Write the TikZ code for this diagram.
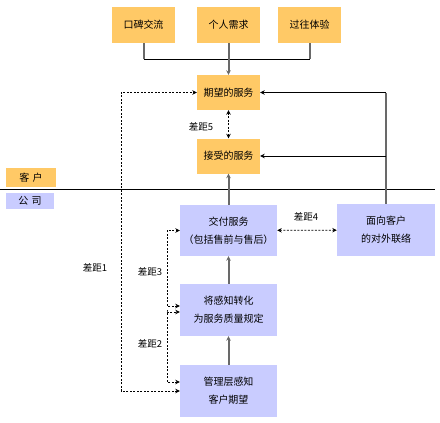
\documentclass[tikz,border=0pt]{standalone}
\usepackage{fontspec}
\setmainfont{Noto Sans CJK SC}
\usetikzlibrary{arrows.meta}
\definecolor{custorange}{RGB}{255,201,102}
\definecolor{compblue}{RGB}{201,204,255}
\definecolor{linegray}{RGB}{105,105,105}
\tikzset{
  custbox/.style={fill=custorange, inner sep=0pt, align=center},
  compbox/.style={fill=compblue, inner sep=0pt, align=center, font=\fontsize{10}{18}\selectfont},
  conn/.style={->, >={Stealth[length=4.5pt,width=4.5pt]}, linegray, line width=2pt},
  link/.style={->, >={Stealth[length=4.5pt,width=4.5pt]}, black, line width=0.8pt},
  gap/.style={<->, >={Stealth[length=4.5pt,width=4.5pt]}, black, line width=0.8pt, dash pattern=on 2pt off 1.5pt},
  gaplabel/.style={font=\fontsize{9.5}{11}\selectfont}
}
\begin{document}
\begin{tikzpicture}[x=1pt, y=-1pt, font=\fontsize{10}{12}\selectfont]
  \useasboundingbox (0,0) rectangle (440,423);
  % customer side
  \node[custbox, minimum width=63pt, minimum height=36pt] (WOM) at (143.5,25) {口碑交流};
  \node[custbox, minimum width=63pt, minimum height=36pt] (Need) at (228.5,25) {个人需求};
  \node[custbox, minimum width=63pt, minimum height=36pt] (Past) at (309.5,25) {过往体验};
  \node[custbox, minimum width=63pt, minimum height=35pt] (Exp) at (228.5,92.5) {期望的服务};
  \node[custbox, minimum width=63pt, minimum height=35pt] (Perc) at (228.5,156) {接受的服务};
  \node[custbox, minimum width=50pt, minimum height=19pt] (Cust) at (31,177.5) {客\,\,户};
  % company side
  \node[compbox, minimum width=48pt, minimum height=16pt] (Comp) at (30,201) {公\,\,司};
  \node[compbox, minimum width=97pt, minimum height=51pt] (Deliv) at (228.5,230.5) {交付服务\\（包括售前与售后）};
  \node[compbox, minimum width=98pt, minimum height=52pt] (Ext) at (386,230) {面向客户\\的对外联络};
  \node[compbox, minimum width=97pt, minimum height=52pt] (Conv) at (228.5,310) {将感知转化\\为服务质量规定};
  \node[compbox, minimum width=97pt, minimum height=52pt] (Mgmt) at (228.5,391) {管理层感知\\客户期望};
  % divider
  \coordinate (DL) at (0,189.5);
  \coordinate (DR) at (435,189.5);
  \draw[line width=0.8pt] (DL) -- (DR);
  % sources of expectation
  \coordinate (J1) at (143.5,59);
  \coordinate (J3) at (309.5,59);
  \draw[linegray, line width=2pt] (WOM) -- (J1);
  \draw[linegray, line width=2pt] (Past) -- (J3);
  \draw[line width=0.8pt] (J1) -- (J3);
  \draw[conn] (Need) -- (Exp);
  % flows
  \draw[conn] (Mgmt) -- (Conv);
  \draw[conn] (Conv) -- (Deliv);
  \draw[conn] (Deliv) -- (Perc);
  \coordinate (E1) at (386,92.5);
  \coordinate (E2) at (386,156);
  \draw[linegray, line width=2pt] (Ext) -- (E1);
  \draw[link] (E1) -- (Exp);
  \draw[link] (E2) -- (Perc);
  % gaps
  \coordinate (G1) at (121,92.5);
  \coordinate (G2) at (167,0);
  \draw[gap] (Mgmt.west) -| (G1) -- (Exp.west);
  \draw[gap] ([yshift=9pt]Mgmt.west) -| (G2 |- Conv) |- ([yshift=-2pt]Conv.west);
  \draw[gap] ([yshift=4pt]Conv.west) -| (G2 |- Deliv) -- (Deliv.west);
  \draw[gap] (Deliv) -- (Ext);
  \draw[gap] (Exp) -- (Perc);
  \node[gaplabel] (L5) at (201,127) {差距5};
  \node[gaplabel] (L4) at (306,217) {差距4};
  \node[gaplabel] (L1) at (95,268) {差距1};
  \node[gaplabel] (L3) at (150,272) {差距3};
  \node[gaplabel] (L2) at (150,344) {差距2};
\end{tikzpicture}
\end{document}
